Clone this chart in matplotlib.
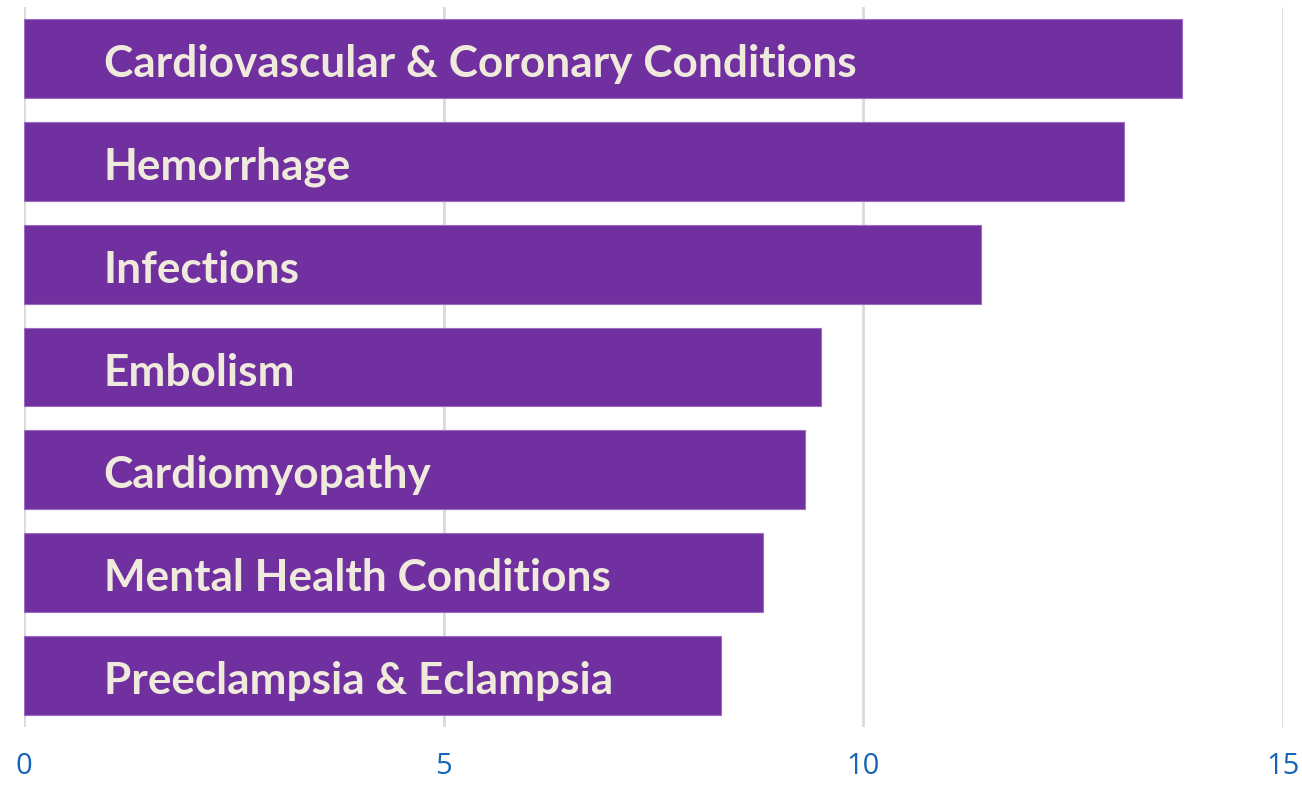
import numpy as np
import matplotlib.pyplot as plt

causes = ['Cardiovascular & Coronary Conditions', 'Hemorrhage', 'Infections', 'Embolism',
          'Cardiomyopathy', 'Mental Health Conditions', 'Preeclampsia & Eclampsia']
values = [13.8, 13.1, 11.4, 9.5, 9.3, 8.8, 8.3]
xticks = [0, 5, 10, 15]

bar_color = '#7030A0'
text_color = '#EFEADC'
tick_color = '#1565B8'

fig = plt.figure(figsize=(13.02, 7.85), dpi=100)
ax = fig.add_axes([24 / 1302, 1 - 727 / 785, 1259 / 1302, 720 / 785])

y = np.arange(len(causes))
ax.barh(y, values, height=0.767, color=bar_color, edgecolor='#9B6CC4', linewidth=0.8, zorder=2)

for i, name in enumerate(causes):
    ax.text(0.95, i + 0.18, name, va='baseline', ha='left', color=text_color,
            fontsize=31.8, fontweight='bold', family='Lato', zorder=3)

ax.set_xlim(0, 15)
ax.set_ylim(6.5, -0.5)
ax.set_xticks(xticks)
ax.set_xticklabels([str(t) for t in xticks], color=tick_color, fontsize=21, family='Open Sans')
ax.set_yticks([])
ax.tick_params(axis='x', length=0, pad=18)
ax.grid(axis='x', color='#D9D9D9', linewidth=2, zorder=0)
for s in ax.spines.values():
    s.set_visible(False)

plt.savefig('out.png', dpi=100)
